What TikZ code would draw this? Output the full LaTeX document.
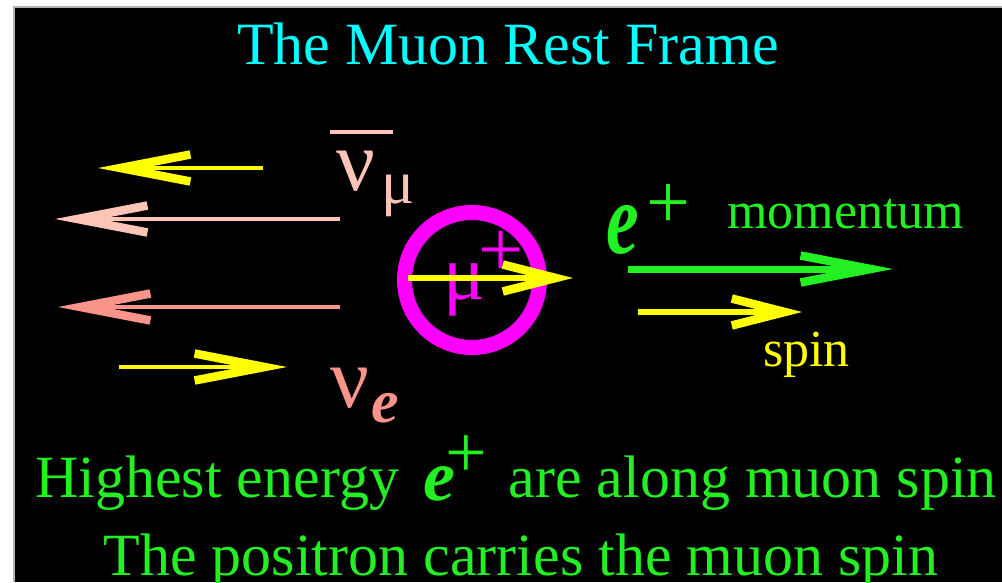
\documentclass[tikz,border=0pt]{standalone}
\usepackage{graphicx}
\usepackage{fontspec}
\setmainfont{Liberation Serif}
\usetikzlibrary{
  arrows.meta,
  positioning
}
\definecolor{mrTitle}{HTML}{00FFFF}
\definecolor{mrGreen}{HTML}{22F022}
\definecolor{mrYellow}{HTML}{FFFF00}
\definecolor{mrMagenta}{HTML}{FF00FF}
\definecolor{mrPink}{HTML}{FFC4B8}
\definecolor{mrSalmon}{HTML}{F8948A}
\newcommand{\mrsize}[1]{\fontsize{#1}{#1}\selectfont}
\tikzset{
  lbl/.style={inner sep=0pt, anchor=base west},
  vec/.style={line width=4.5pt, -{Straight Barb[length=#1, width=27pt, line width=8.5pt]}},
  vec/.default=70pt,
  muring/.style={draw=mrMagenta, line width=15pt, circle, minimum size=135pt, inner sep=0pt}
}
\begin{document}
\begin{tikzpicture}[x=1pt, y=-1pt]
  \useasboundingbox (0,0) rectangle (1002,582);
  \fill[white] (0,0) rectangle (1002,582);
  \fill[black] (14,7) rectangle (1002,582);
  \draw[gray!60, line width=1.5pt] (14,582) -- (14,7) -- (1002,7);

  \node[lbl, anchor=base, text=mrTitle] (title) at (508,64) {\mrsize{60}The Muon Rest Frame};

  % neutrinos on the left
  \node[lbl, text=mrPink] (numu) at (336,190) {\mrsize{86}ν};
  \node[lbl, text=mrPink] (numusub) at (381,203) {\mrsize{62}μ};
  \coordinate (barL) at (330,132);
  \coordinate (barR) at (393,132);
  \draw[mrPink, line width=4pt] (barL) -- (barR);
  \node[lbl, text=mrSalmon] (nue) at (330,407) {\mrsize{86}ν};
  \node[lbl, text=mrSalmon] (nuesub) at (371,422) {\mrsize{62}\bfseries\itshape e};

  \coordinate (ymuT) at (263,168);
  \coordinate (ymuH) at (98,168);
  \coordinate (pmuT) at (340,219);
  \coordinate (pmuH) at (55,219);
  \coordinate (seT) at (340,307);
  \coordinate (seH) at (58,307);
  \coordinate (yeT) at (119,367);
  \coordinate (yeH) at (287,367);
  \draw[vec, mrYellow] (ymuT) -- (ymuH);
  \draw[vec, mrPink] (pmuT) -- (pmuH);
  \draw[vec, mrSalmon] (seT) -- (seH);
  \draw[vec, mrYellow] (yeT) -- (yeH);

  % the muon
  \node[muring] (muon) at (472,280) {};
  \node[lbl, text=mrMagenta] (mu) at (443,299) {\mrsize{78}μ};
  \node[lbl, text=mrMagenta] (muplus) at (478,276) {\mrsize{80}+};
  \coordinate (mspinT) at (408,278);
  \coordinate (mspinH) at (573,278);
  \draw[vec=53pt, mrYellow, line width=6pt] (mspinT) -- (mspinH);

  % the positron
  \node[lbl, text=mrGreen] (epos) at (606,253) {\scalebox{0.72}[1]{\mrsize{102}\bfseries\itshape e}};
  \node[lbl, text=mrGreen] (eplus) at (646,228) {\mrsize{78}+};
  \node[lbl, text=mrGreen] (mom) at (727,228) {\mrsize{52}momentum};
  \node[lbl, text=mrYellow] (spinlbl) at (763,366) {\mrsize{52}spin};
  \coordinate (pmomT) at (628,269);
  \coordinate (pmomH) at (893,269);
  \coordinate (pspinT) at (638,312);
  \coordinate (pspinH) at (802,312);
  \draw[vec, mrGreen, line width=7pt] (pmomT) -- (pmomH);
  \draw[vec=53pt, mrYellow, line width=6pt] (pspinT) -- (pspinH);

  % bottom lines
  \node[lbl, text=mrGreen] (hi1) at (35,497) {\mrsize{60}Highest energy};
  \node[lbl, text=mrGreen] (hie) at (423,500) {\mrsize{72}\bfseries\itshape e};
  \node[lbl, text=mrGreen] (hiplus) at (445,477) {\mrsize{74}+};
  \node[lbl, anchor=base east, text=mrGreen] (hi2) at (997,497) {\mrsize{60}are along muon spin};
  \node[lbl, anchor=base, text=mrGreen] (carry) at (521,575) {\mrsize{60}The positron carries the muon spin};
\end{tikzpicture}
\end{document}
